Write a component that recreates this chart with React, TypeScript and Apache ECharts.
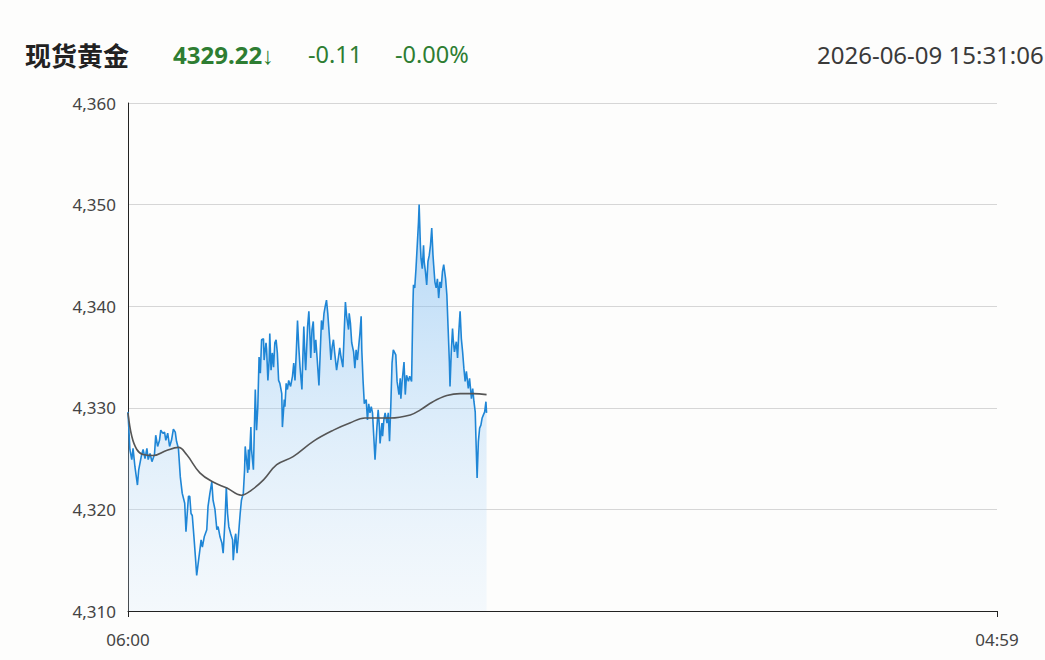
import React, { useEffect, useRef } from "react";
import * as echarts from "echarts";

const titleText = "现货黄金";
const lastPriceText = "4329.22↓";
const changeText = "-0.11";
const changePctText = "-0.00%";
const timeText = "2026-06-09 15:31:06";

const yTicks = [4310, 4320, 4330, 4340, 4350, 4360];
const sessionStart = 6 * 60; // 06:00
const sessionMinutes = 1379; // 06:00 -> 04:59

const priceMinutes = [
  0, 3, 6, 8, 11, 15, 17, 21, 24, 27, 30, 32, 35, 38, 42, 44, 47, 50, 52, 55, 58, 60, 63, 66, 69, 72, 75, 77, 80, 83,
  86, 90, 92, 94, 96, 98, 100, 102, 105, 107, 109, 112, 114, 116, 118, 121, 125, 127, 130, 133, 135, 138, 141, 143,
  146, 149, 151, 154, 156, 158, 160, 163, 166, 167, 170, 171, 173, 176, 178, 180, 183, 185, 186, 188, 190, 191, 192,
  195, 196, 199, 202, 204, 206, 208, 210, 212, 215, 216, 219, 220, 222, 224, 225, 227, 229, 231, 233, 235, 237, 239,
  241, 244, 245, 248, 249, 251, 253, 255, 258, 261, 263, 265, 267, 269, 271, 273, 276, 277, 279, 281, 282, 285, 287,
  289, 290, 292, 294, 296, 298, 300, 303, 305, 307, 309, 311, 313, 315, 317, 320, 322, 324, 326, 328, 331, 334, 336,
  338, 341, 343, 345, 347, 350, 351, 353, 355, 358, 360, 362, 364, 366, 368, 370, 371, 373, 375, 378, 380, 382, 384,
  386, 388, 390, 392, 395, 397, 399, 400, 403, 404, 406, 408, 411, 413, 415, 417, 419, 421, 425, 427, 430, 432, 433,
  435, 438, 440, 442, 445, 447, 450, 452, 453, 455, 457, 459, 461, 462, 464, 465, 467, 469, 470, 472, 474, 476, 478,
  480, 482, 484, 485, 487, 489, 491, 493, 495, 497, 499, 501, 504, 506, 508, 510, 511, 513, 515, 516, 518, 521, 523,
  525, 527, 529, 531, 533, 535, 537, 540, 542, 544, 545, 547, 549, 551, 552, 554, 556, 558, 560, 562, 564, 566, 568,
  569,
];

const prices = [
  4329.6, 4325.9, 4324.9, 4326.0, 4324.2, 4322.4, 4323.9, 4325.2, 4325.9, 4325.0, 4326.0, 4324.9, 4325.5, 4324.7,
  4325.4, 4327.3, 4326.2, 4326.8, 4327.8, 4327.5, 4327.6, 4326.8, 4327.5, 4326.2, 4326.8, 4327.9, 4327.6, 4326.7,
  4326.0, 4323.2, 4321.6, 4320.6, 4317.8, 4319.6, 4321.3, 4321.3, 4319.6, 4319.4, 4317.0, 4315.3, 4313.5, 4315.0,
  4316.0, 4317.0, 4316.3, 4317.3, 4318.0, 4320.3, 4321.6, 4322.7, 4320.9, 4320.0, 4318.0, 4318.3, 4317.3, 4316.7,
  4315.7, 4319.0, 4322.2, 4319.6, 4318.3, 4317.6, 4317.0, 4315.0, 4317.3, 4317.6, 4315.7, 4318.0, 4319.6, 4320.9,
  4321.6, 4323.9, 4326.2, 4324.9, 4323.6, 4325.9, 4323.9, 4328.1, 4325.9, 4323.9, 4331.8, 4327.8, 4330.1, 4335.0,
  4333.4, 4336.7, 4336.8, 4334.7, 4336.4, 4335.7, 4332.7, 4334.7, 4337.3, 4333.7, 4335.4, 4334.0, 4336.4, 4336.7,
  4335.4, 4332.7, 4332.4, 4331.4, 4328.1, 4330.8, 4330.1, 4332.4, 4331.8, 4332.7, 4332.1, 4333.1, 4334.4, 4332.7,
  4335.4, 4338.6, 4336.0, 4334.0, 4331.8, 4334.0, 4338.0, 4334.7, 4333.7, 4338.0, 4339.5, 4336.7, 4334.9, 4337.7,
  4338.5, 4335.4, 4336.7, 4335.0, 4332.2, 4335.4, 4338.6, 4337.7, 4339.3, 4340.0, 4340.6, 4339.3, 4336.7, 4334.7,
  4336.0, 4336.7, 4335.4, 4333.7, 4335.0, 4335.9, 4335.0, 4334.0, 4337.3, 4340.4, 4339.0, 4337.7, 4339.3, 4338.3,
  4336.4, 4335.5, 4333.9, 4335.7, 4334.7, 4336.0, 4337.3, 4339.0, 4335.7, 4332.7, 4330.4, 4330.8, 4328.8, 4330.4,
  4329.5, 4330.1, 4329.5, 4327.2, 4324.9, 4328.1, 4329.8, 4328.1, 4326.5, 4328.5, 4327.2, 4328.8, 4329.5, 4328.5,
  4329.5, 4326.7, 4330.1, 4334.4, 4335.7, 4335.2, 4332.6, 4331.3, 4332.9, 4330.9, 4332.6, 4334.5, 4331.3, 4333.2,
  4332.6, 4333.1, 4332.6, 4339.8, 4342.1, 4341.8, 4343.7, 4346.0, 4348.3, 4350.0, 4346.0, 4344.7, 4343.7, 4346.0,
  4344.4, 4343.4, 4342.1, 4344.4, 4345.0, 4346.0, 4347.7, 4345.0, 4344.1, 4342.4, 4341.8, 4342.7, 4340.8, 4342.4,
  4341.8, 4343.4, 4344.1, 4342.7, 4341.1, 4337.8, 4334.5, 4332.1, 4335.5, 4337.8, 4336.8, 4335.5, 4336.5, 4334.9,
  4337.5, 4339.5, 4336.8, 4335.5, 4333.9, 4332.6, 4333.6, 4331.9, 4332.9, 4331.6, 4330.9, 4331.9, 4330.6, 4329.6,
  4327.3, 4323.1, 4326.7, 4328.0, 4328.3, 4329.0, 4329.3, 4329.6, 4330.6, 4329.5,
];

const avgMinutes = [
  0, 6, 14, 24, 40, 61, 80, 93, 114, 135, 157, 180, 196, 215, 236, 262, 294, 326, 352, 376, 416, 448, 464, 484, 506,
  527, 548, 569,
];
const avgPrices = [
  4329.5, 4327.2, 4325.9, 4325.4, 4325.3, 4325.8, 4326.1, 4325.4, 4323.6, 4322.7, 4322.1, 4321.4, 4321.9, 4322.9,
  4324.4, 4325.2, 4326.7, 4327.8, 4328.5, 4329.0, 4329.0, 4329.3, 4329.8, 4330.6, 4331.2, 4331.4, 4331.4, 4331.3,
];

function fmtTime(v: number) {
  const m = (sessionStart + v) % 1440;
  const hh = Math.floor(m / 60);
  const mm = m % 60;
  return String(hh).padStart(2, "0") + ":" + String(mm).padStart(2, "0");
}

export default function App() {
  const ref = useRef<HTMLDivElement>(null);
  useEffect(() => {
    if (!ref.current) return;
    const chart = echarts.init(ref.current, undefined, { renderer: "svg" });
    const numFont = '"Noto Sans", "Open Sans", sans-serif';
    const green = "#2e7d32";
    chart.setOption({
      animation: false,
      backgroundColor: "#fdfdfc",
      grid: { left: 128, right: 48, top: 103, bottom: 49 },
      xAxis: {
        type: "value",
        min: 0,
        max: sessionMinutes,
        interval: sessionMinutes,
        axisLine: { show: true, lineStyle: { color: "#222", width: 1 } },
        axisTick: { show: true, length: 6, lineStyle: { color: "#222" } },
        splitLine: { show: false },
        axisLabel: {
          formatter: (v: number) => fmtTime(v),
          color: "#444",
          fontSize: 17,
          fontFamily: numFont,
          margin: 20,
          showMinLabel: true,
          showMaxLabel: true,
        },
      },
      yAxis: {
        type: "value",
        min: yTicks[0],
        max: yTicks[yTicks.length - 1],
        interval: 10,
        axisLine: { show: true, lineStyle: { color: "#222", width: 1 } },
        axisTick: { show: false },
        splitLine: { show: true, lineStyle: { color: "#d6d6d6", width: 1 } },
        axisLabel: {
          color: "#444",
          fontSize: 17,
          fontFamily: numFont,
          margin: 12,
          formatter: (v: number) => v.toLocaleString("en-US"),
        },
      },
      series: [
        {
          type: "line",
          data: priceMinutes.map((t, i) => [t, prices[i]]),
          symbol: "none",
          lineStyle: { color: "#1f86d6", width: 1.6 },
          areaStyle: {
            color: new echarts.graphic.LinearGradient(0, 0, 0, 1, [
              { offset: 0, color: "rgba(100,175,240,0.7)" },
              { offset: 1, color: "rgba(210,232,252,0.3)" },
            ]),
          },
          z: 2,
        },
        {
          type: "line",
          data: avgMinutes.map((t, i) => [t, avgPrices[i]]),
          symbol: "none",
          smooth: 0.4,
          lineStyle: { color: "#555", width: 1.6 },
          z: 3,
        },
      ],
      graphic: [
        {
          type: "text",
          x: 25,
          y: 54,
          style: {
            text: titleText,
            font: 'bold 26px "Noto Sans CJK SC", sans-serif',
            fill: "#222",
            verticalAlign: "middle",
            align: "left",
          },
        },
        {
          type: "text",
          x: 173,
          y: 54,
          style: {
            text: lastPriceText,
            font: 'bold 24px ' + numFont,
            fill: green,
            verticalAlign: "middle",
            align: "left",
          },
        },
        {
          type: "text",
          x: 308,
          y: 54,
          style: {
            text: changeText,
            font: '23.5px ' + numFont,
            fill: green,
            verticalAlign: "middle",
            align: "left",
          },
        },
        {
          type: "text",
          x: 395,
          y: 54,
          style: {
            text: changePctText,
            font: '23.5px ' + numFont,
            fill: green,
            verticalAlign: "middle",
            align: "left",
          },
        },
        {
          type: "text",
          x: 817,
          y: 54,
          style: {
            text: timeText,
            font: '24px ' + numFont,
            fill: "#3a3a3a",
            verticalAlign: "middle",
            align: "left",
          },
        },
      ],
    });
    return () => chart.dispose();
  }, []);
  return (
    <div
      ref={ref}
      style={{ position: "absolute", left: 0, top: 0, width: 1045, height: 660 }}
    />
  );
}
